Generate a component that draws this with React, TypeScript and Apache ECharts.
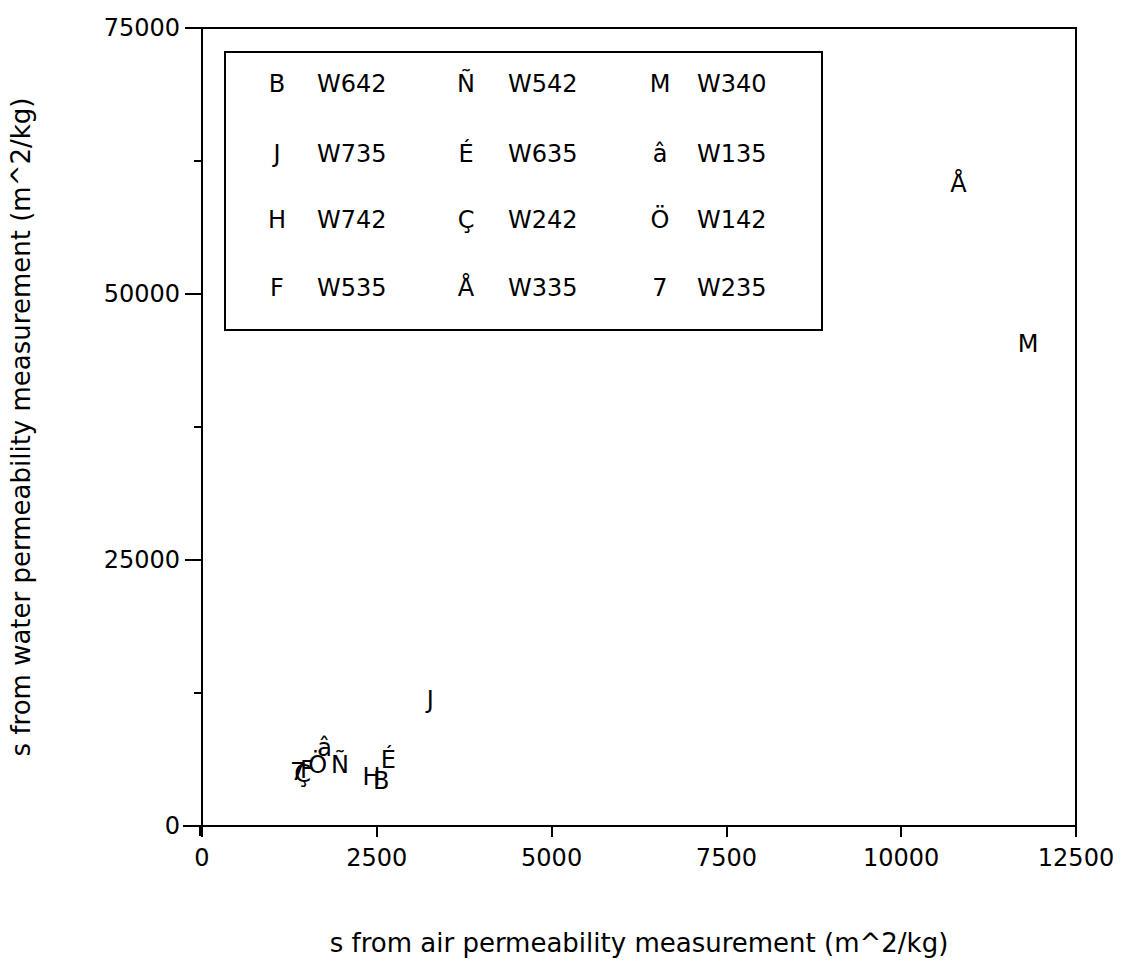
import React, { useEffect, useRef } from "react";
import * as echarts from "echarts";

// Data series: marker letter, sample name, x (air), y (water)
const symbols = ["B", "J", "H", "F", "Ñ", "É", "Ç", "Å", "M", "â", "Ö", "7"];
const names = ["W642", "W735", "W742", "W535", "W542", "W635", "W242", "W335", "W340", "W135", "W142", "W235"];
const airValues = [2565, 3264, 2423, 1500, 1975, 2665, 1440, 10818, 11816, 1753, 1653, 1368];
const waterValues = [4229, 11842, 4605, 5300, 5733, 6203, 4887, 60300, 45300, 7330, 5733, 5075];

const xTitle = "s from air permeability measurement (m^2/kg)";
const yTitle = "s from water permeability measurement (m^2/kg)";

const FONT = "DejaVu Sans";

export default function App() {
  const ref = useRef<HTMLDivElement>(null);
  useEffect(() => {
    document.body.style.margin = "0";
    const chart = echarts.init(ref.current!, null, { renderer: "svg" });

    // legend graphic: 3 columns x 4 rows
    const legendEls: any[] = [];
    const colSym = [277, 466, 660];
    const colName = [317, 508, 697];
    const rowY = [84, 154, 220, 288];
    symbols.forEach((s, i) => {
      const col = Math.floor(i / 4);
      const row = i % 4;
      legendEls.push({
        type: "text",
        z: 20,
        x: colSym[col],
        y: rowY[row],
        style: { text: s, font: `24px '${FONT}'`, fill: "#000", align: "center", verticalAlign: "middle" },
      });
      legendEls.push({
        type: "text",
        z: 20,
        x: colName[col],
        y: rowY[row],
        style: { text: names[i], font: `24px '${FONT}'`, fill: "#000", align: "left", verticalAlign: "middle" },
      });
    });

    const seriesData = airValues.map((x, i) => [x, waterValues[i], i]);

    chart.setOption({
      animation: false,
      backgroundColor: "#fff",
      grid: { left: 200, right: 45, top: 28, bottom: 140, show: true, borderColor: "#000", borderWidth: 2, backgroundColor: "transparent" },
      xAxis: {
        type: "value",
        min: 0,
        max: 12500,
        interval: 2500,
        name: xTitle,
        nameLocation: "middle",
        nameGap: 104,
        nameTextStyle: { fontFamily: FONT, fontSize: 26, color: "#000" },
        axisLine: { show: true, lineStyle: { color: "#000", width: 2 } },
        axisTick: { show: true, inside: false, length: 11, lineStyle: { color: "#000", width: 2 } },
        axisLabel: { fontFamily: FONT, fontSize: 24, color: "#000", margin: 20, formatter: (v: number) => String(v) },
        splitLine: { show: false },
      },
      yAxis: {
        type: "value",
        min: 0,
        max: 75000,
        interval: 25000,
        name: yTitle,
        nameLocation: "middle",
        nameGap: 168,
        nameTextStyle: { fontFamily: FONT, fontSize: 26, color: "#000" },
        axisLine: { show: true, lineStyle: { color: "#000", width: 2 } },
        axisTick: { show: true, inside: false, length: 17, lineStyle: { color: "#000", width: 2 } },
        minorTick: { show: true, splitNumber: 2, length: 8, lineStyle: { color: "#000", width: 2 } },
        axisLabel: { fontFamily: FONT, fontSize: 24, color: "#000", margin: 22, formatter: (v: number) => String(v) },
        splitLine: { show: false },
      },
      series: [
        {
          type: "custom",
          data: seriesData,
          encode: { x: 0, y: 1 },
          renderItem: (params: any, api: any) => {
            const pt = api.coord([api.value(0), api.value(1)]);
            const idx = api.value(2);
            return {
              type: "text",
              x: pt[0],
              y: pt[1],
              style: { text: symbols[idx], font: `24px '${FONT}'`, fill: "#000", align: "center", verticalAlign: "middle" },
            };
          },
        },
      ],
      graphic: [
        {
          type: "rect",
          z: 10,
          shape: { x: 225, y: 52, width: 597, height: 278 },
          style: { fill: "#fff", stroke: "#000", lineWidth: 2 },
        },
        ...legendEls,
        // short overshoot of the axes beyond the origin
        { type: "line", shape: { x1: 183, y1: 826, x2: 200, y2: 826 }, style: { stroke: "#000", lineWidth: 2 } },
        { type: "line", shape: { x1: 200, y1: 826, x2: 200, y2: 836 }, style: { stroke: "#000", lineWidth: 2 } },
      ],
    });
    return () => chart.dispose();
  }, []);
  return <div ref={ref} style={{ width: 1121, height: 966 }} />;
}
